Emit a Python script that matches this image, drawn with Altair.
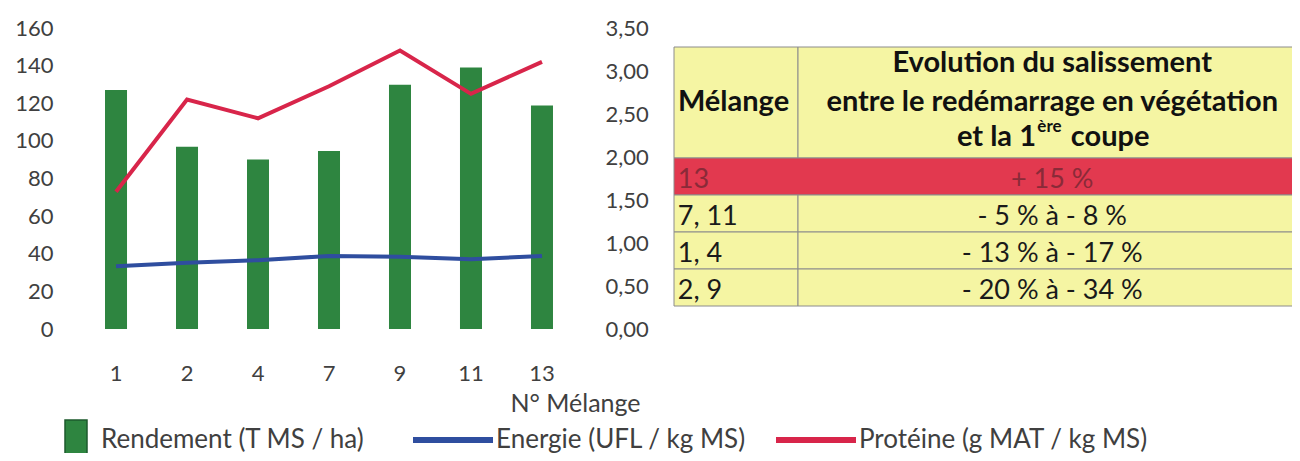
import altair as alt
import pandas as pd

FONT = "Lato"
TXT = "#404040"

# ---- data ----
melanges = ["1", "2", "4", "7", "9", "11", "13"]
rendement = [2.78, 2.12, 1.97, 2.07, 2.84, 3.04, 2.60]   # T MS / ha (right axis)
energie = [0.73, 0.77, 0.80, 0.85, 0.84, 0.81, 0.85]      # UFL / kg MS (right axis)
proteine = [73, 122, 112, 129, 148, 125, 142]             # g MAT / kg MS (left axis)

serie_names = ["Rendement (T MS / ha)", "Energie (UFL / kg MS)", "Protéine (g MAT / kg MS)"]
serie_colors = ["#2e8540", "#2f4e9f", "#d8254a"]

left_ticks = [0, 20, 40, 60, 80, 100, 120, 140, 160]
right_ticks = [0, 0.5, 1, 1.5, 2, 2.5, 3, 3.5]

# table content
table_melange = ["13", "7, 11", "1, 4", "2, 9"]
table_evolution = ["+ 15 %", "- 5 % à - 8 %", "- 13 % à - 17 %", "- 20 % à - 34 %"]
table_head_col0 = "Mélange"
table_head_col1 = ["Evolution du salissement", "entre le redémarrage en végétation"]
table_head_last = ["et la 1", "ère", "coupe"]
table_row_fill = ["#e2394f", "#f5f5a3", "#f5f5a3", "#f5f5a3"]
table_row_text = ["#8a2a38", "#1a1a1a", "#1a1a1a", "#1a1a1a"]
YELLOW = "#f5f5a3"

# ---- chart ----
df = pd.DataFrame({
    "melange": melanges,
    "rendement": rendement,
    "s_r": [serie_names[0]] * len(melanges),
})
lines_df = pd.DataFrame({
    "melange": melanges * 2,
    "serie": [serie_names[1]] * len(melanges) + [serie_names[2]] * len(melanges),
    "value": energie + proteine,
})

xaxis = alt.Axis(
    title="N° Mélange", labelAngle=0, labelFont=FONT, labelFontSize=22,
    labelColor=TXT, labelPadding=34, labelBaseline="top", ticks=False,
    domain=False, grid=False, titleX=515, titleY=74, titleAlign="center",
    titleBaseline="middle", titleFont=FONT, titleFontSize=25,
    titleFontWeight="normal", titleColor=TXT,
)
xscale = alt.Scale(paddingInner=0.69, paddingOuter=0.634)
xenc = alt.X("melange:N", sort=melanges, scale=xscale, axis=xaxis)

right_axis = alt.Axis(
    orient="right", values=right_ticks, title=None, ticks=False, domain=False,
    grid=False, labelFont=FONT, labelFontSize=22, labelColor=TXT, labelPadding=7,
    labelExpr="replace(format(datum.value, '.2f'), '.', ',')",
)
right_scale = alt.Scale(domain=[0, 3.5])

bars = alt.Chart(df).mark_bar().encode(
    x=xenc,
    y=alt.Y("rendement:Q", scale=right_scale, axis=right_axis),
    color=alt.Color(
        "s_r:N", scale=alt.Scale(domain=[serie_names[0]], range=[serie_colors[0]]),
        legend=alt.Legend(
            title=None, orient="none", legendX=-5, legendY=391, padding=0,
            symbolType="M-0.55,-1H0.55V1H-0.55Z", symbolSize=1600,
            symbolStrokeColor="#1d5a2c", symbolStrokeWidth=1.5, symbolOpacity=1,
            labelFont=FONT, labelFontSize=26, labelColor=TXT, labelOffset=4,
            labelLimit=600,
        ),
    ),
)

stroke_scale = alt.Scale(domain=serie_names[1:], range=serie_colors[1:])
stroke_legend = alt.Legend(
    title=None, orient="none", direction="horizontal", columns=2,
    legendX=350, legendY=369, padding=0, symbolType="stroke", symbolSize=6400,
    symbolStrokeWidth=6, labelFont=FONT, labelFontSize=26, labelColor=TXT,
    labelOffset=0, columnPadding=18, labelLimit=600,
)

energy_line = alt.Chart(lines_df).transform_filter(
    alt.datum.serie == serie_names[1]
).mark_line(strokeWidth=4).encode(
    x=xenc,
    y=alt.Y("value:Q", scale=right_scale, axis=right_axis),
    stroke=alt.Stroke("serie:N", scale=stroke_scale, legend=stroke_legend),
)

protein_line = alt.Chart(lines_df).transform_filter(
    alt.datum.serie == serie_names[2]
).mark_line(strokeWidth=4).encode(
    x=xenc,
    y=alt.Y("value:Q", scale=alt.Scale(domain=[0, 160]),
            axis=alt.Axis(orient="left", values=left_ticks, title=None, ticks=False,
                          domain=False, grid=False, labelFont=FONT, labelFontSize=22,
                          labelColor=TXT, labelPadding=7)),
    stroke=alt.Stroke("serie:N", scale=stroke_scale, legend=stroke_legend),
)

main = alt.layer(alt.layer(bars, energy_line), protein_line).resolve_scale(y="independent")

# ---- table (row / column units) ----
tx = alt.Scale(domain=[0, 5], range=[614, 1234])
ty = alt.Scale(domain=[0, 7], range=[19, 278])
XR = 5.15
cells = [dict(x0=0, x1=1, y0=0, y1=3, fill=YELLOW), dict(x0=1, x1=XR, y0=0, y1=3, fill=YELLOW)]
for i, f in enumerate(table_row_fill):
    y0, y1 = 3 + i, 4 + i
    if i == 0:
        cells.append(dict(x0=0, x1=XR, y0=y0, y1=y1, fill=f))
    else:
        cells.append(dict(x0=0, x1=1, y0=y0, y1=y1, fill=f))
        cells.append(dict(x0=1, x1=XR, y0=y0, y1=y1, fill=f))
cells_df = pd.DataFrame(cells)

rects = alt.Chart(cells_df).mark_rect(stroke="#8c8c8c", strokeWidth=1).encode(
    x=alt.X("x0:Q", scale=tx, axis=None), x2="x1:Q",
    y=alt.Y("y0:Q", scale=ty, axis=None), y2="y1:Q",
    fill=alt.Fill("fill:N", scale=None),
)

HEAD_FS = 29
head_c = pd.DataFrame({
    "t": [table_head_col0] + table_head_col1,
    "x": [0.48, 3.05, 3.05],
    "y": [1.49, 0.43, 1.49],
})
head_center = alt.Chart(head_c).mark_text(
    font=FONT, fontSize=HEAD_FS, fontWeight="bold", color="#111", align="center", baseline="middle"
).encode(x=alt.X("x:Q", scale=tx, axis=None), y=alt.Y("y:Q", scale=ty, axis=None), text="t:N")

head_last = pd.DataFrame({"t": table_head_last, "x": [2.919, 2.93, 3.20], "y": [2.43, 2.43, 2.43]})
h1 = alt.Chart(head_last.iloc[[0]]).mark_text(
    font=FONT, fontSize=HEAD_FS, fontWeight="bold", color="#111", align="right", baseline="middle"
).encode(x=alt.X("x:Q", scale=tx, axis=None), y=alt.Y("y:Q", scale=ty, axis=None), text="t:N")
h2 = alt.Chart(head_last.iloc[[1]]).mark_text(
    font=FONT, fontSize=17, fontWeight="bold", color="#111", align="left", baseline="middle", dy=-10
).encode(x=alt.X("x:Q", scale=tx, axis=None), y=alt.Y("y:Q", scale=ty, axis=None), text="t:N")
h3 = alt.Chart(head_last.iloc[[2]]).mark_text(
    font=FONT, fontSize=HEAD_FS, fontWeight="bold", color="#111", align="left", baseline="middle"
).encode(x=alt.X("x:Q", scale=tx, axis=None), y=alt.Y("y:Q", scale=ty, axis=None), text="t:N")

ROW_FS = 27
rows_df = pd.DataFrame({
    "m": table_melange, "e": table_evolution,
    "y": [3.6 + i for i in range(len(table_melange))],
    "c": table_row_text,
    "x0": [0.03] * len(table_melange), "x1": [3.05] * len(table_melange),
})
row_col0 = alt.Chart(rows_df).mark_text(
    font=FONT, fontSize=ROW_FS, align="left", baseline="middle"
).encode(x=alt.X("x0:Q", scale=tx, axis=None), y=alt.Y("y:Q", scale=ty, axis=None),
         text="m:N", color=alt.Color("c:N", scale=None))
row_col1 = alt.Chart(rows_df).mark_text(
    font=FONT, fontSize=ROW_FS, align="center", baseline="middle"
).encode(x=alt.X("x1:Q", scale=tx, axis=None), y=alt.Y("y:Q", scale=ty, axis=None),
         text="e:N", color=alt.Color("c:N", scale=None))

chart = alt.layer(
    main, rects, head_center, h1, h2, h3, row_col0, row_col1
).resolve_scale(
    x="independent", y="independent", color="independent", fill="independent"
).properties(
    width=538, height=301, autosize="none", background="white",
    padding={"left": 52, "top": 20, "right": 694, "bottom": 124},
).configure_view(stroke="transparent", strokeWidth=0)

chart.save("out.html", embed_options={"renderer": "svg", "actions": False})
